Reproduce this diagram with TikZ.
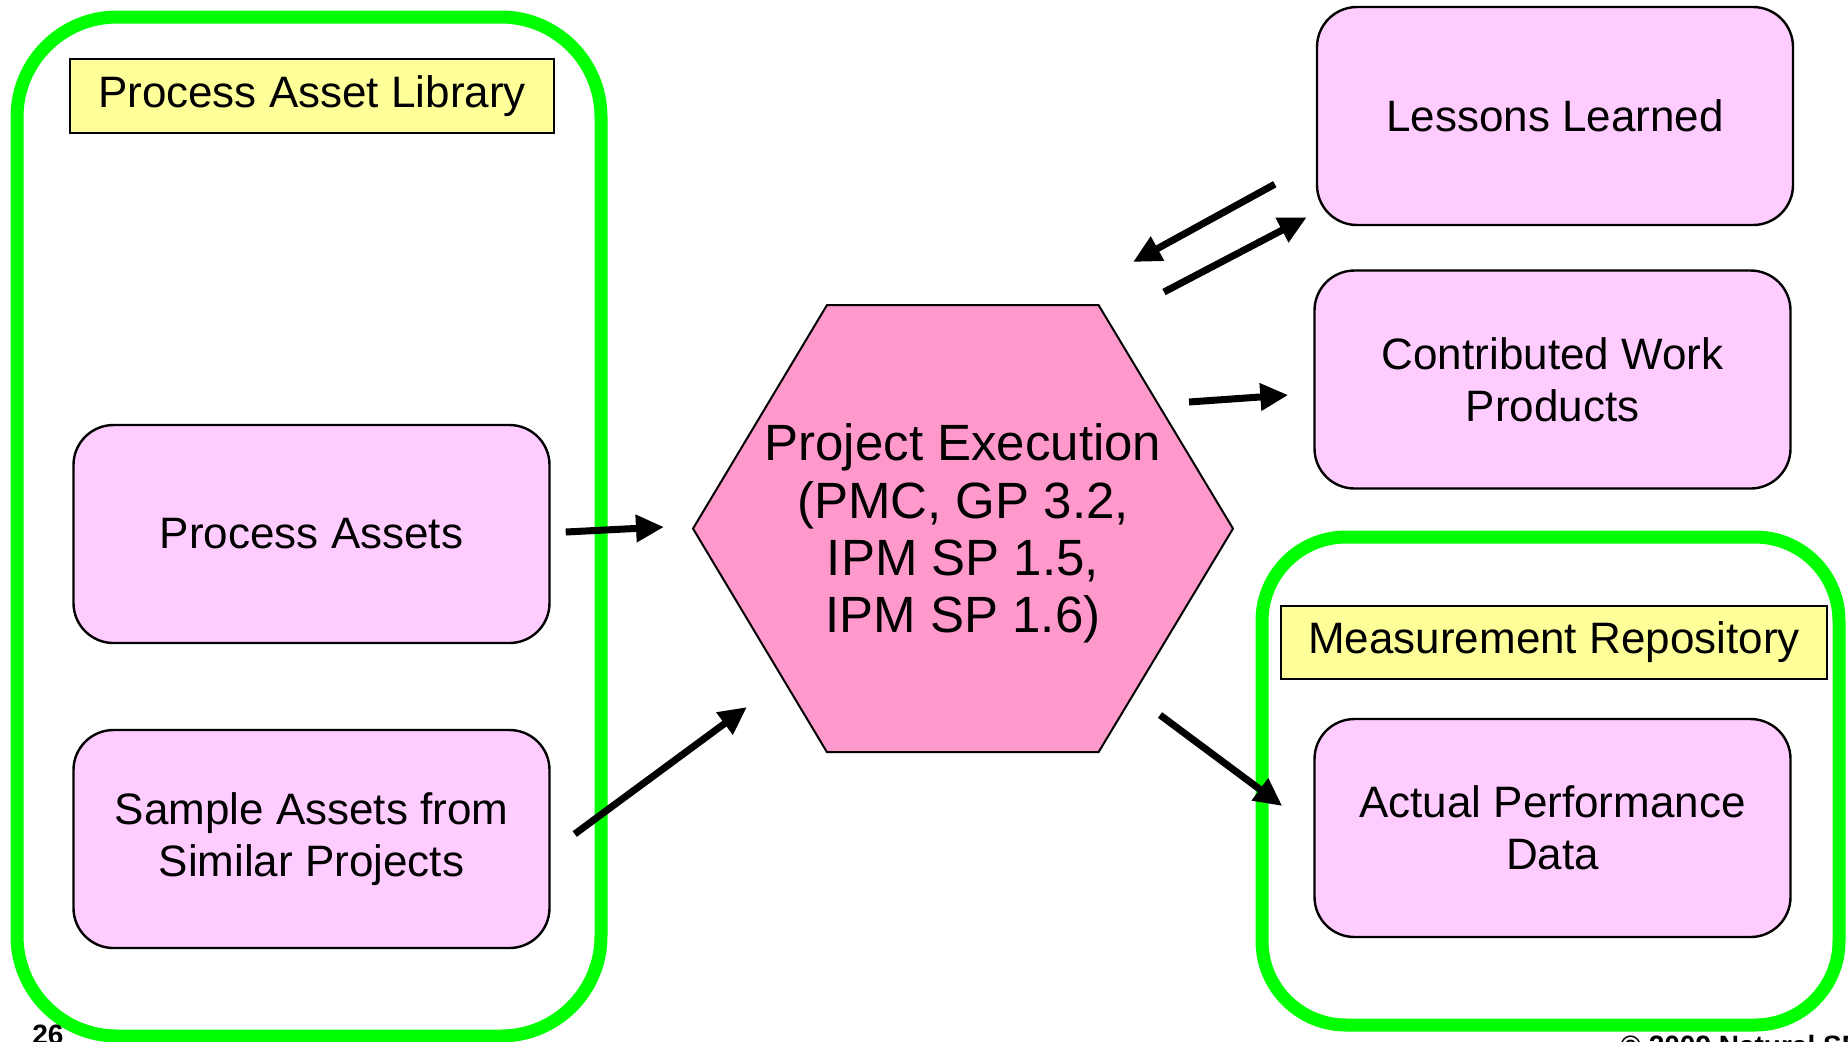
\documentclass[tikz,border=0pt]{standalone}
\usepackage{fontspec}
\setmainfont{Liberation Sans}
\usetikzlibrary{shapes.geometric,calc,arrows.meta}
\definecolor{libgreen}{HTML}{00FF00}
\definecolor{assetpink}{HTML}{FFCCFF}
\definecolor{hexpink}{HTML}{FF99CC}
\definecolor{tagyellow}{HTML}{FFFF99}

\begin{document}
\begin{tikzpicture}[x=0.5pt,y=-0.5pt, every node/.style={font=\fontsize{22}{26}\selectfont},
    group/.style={draw=libgreen, line width=6.5pt, rectangle},
    tag/.style={draw, line width=1.2pt, fill=tagyellow, rectangle},
    asset/.style={draw, line width=1.2pt, fill=assetpink, rectangle, rounded corners=20pt, minimum width=238pt, minimum height=109pt, align=center},
    arr/.style={-{Triangle[length=14pt,width=13pt]}, line width=3.5pt}]
    \useasboundingbox (0,0) rectangle (1848,1041);
    \node[group, rounded corners=50pt, minimum width=292pt, minimum height=509.5pt] (lib) at (309,526.5) {};
    \node[group, rounded corners=42pt, minimum width=288.5pt, minimum height=244pt] (repo) at (1550.5,781) {};
    \node[tag, minimum width=242pt, minimum height=37pt] (libtag) at (312,96) {Process Asset Library};
    \node[tag, minimum width=273pt, minimum height=36.5pt] (repotag) at (1554,642.5) {Measurement Repository};
    \node[asset] (pa) at (311.5,534) {Process Assets};
    \node[asset] (sa) at (311.5,839) {Sample Assets from\\Similar Projects};
    \node[asset] (ll) at (1555,116) {Lessons Learned};
    \node[asset] (cw) at (1552.5,379.5) {Contributed Work\\Products};
    \node[asset] (apd) at (1552.5,828) {Actual Performance\\Data};
    \coordinate (hex) at (963,528.6);
    \draw[line width=1pt, fill=hexpink] ($(hex)+(-270,0)$) -- ($(hex)+(-136,-223.6)$) -- ($(hex)+(135.5,-223.6)$)
        -- ($(hex)+(270,0)$) -- ($(hex)+(135.5,223.6)$) -- ($(hex)+(-136,223.6)$) -- cycle;
    \node[font=\fontsize{25.5}{28.7}\selectfont, align=center] (hextext) at ($(hex)+(0,5)$) {Project Execution\\(PMC, GP 3.2,\\IPM SP 1.5,\\IPM SP 1.6)};
    \draw[arr] ($(pa.east)+(15,-2)$) -- ($(hex)+(-299,-1.6)$);
    \draw[arr] ($(sa.east)+(24,-5)$) -- ($(hex)+(-216,178.4)$);
    \draw[arr] ($(hex)+(201,-236.6)$) -- ($(ll.south west)+(-9,-9)$);
    \draw[arr] ($(ll.south west)+(-41,-42)$) -- ($(hex)+(170,-266.6)$);
    \draw[arr] ($(hex)+(226,-126.6)$) -- ($(cw.west)+(-25,15.5)$);
    \draw[arr] ($(hex)+(197,186.4)$) -- ($(apd.west)+(-31,-22)$);
    \node[font=\fontsize{14}{16}\selectfont\bfseries, inner sep=0pt, anchor=north west] (pageno) at (32,1025) {26};
    \node[font=\fontsize{14}{16}\selectfont\bfseries, inner sep=0pt, anchor=north west] (copy) at (1620,1035) {© 2009 Natural SP};
\end{tikzpicture}
\end{document}
